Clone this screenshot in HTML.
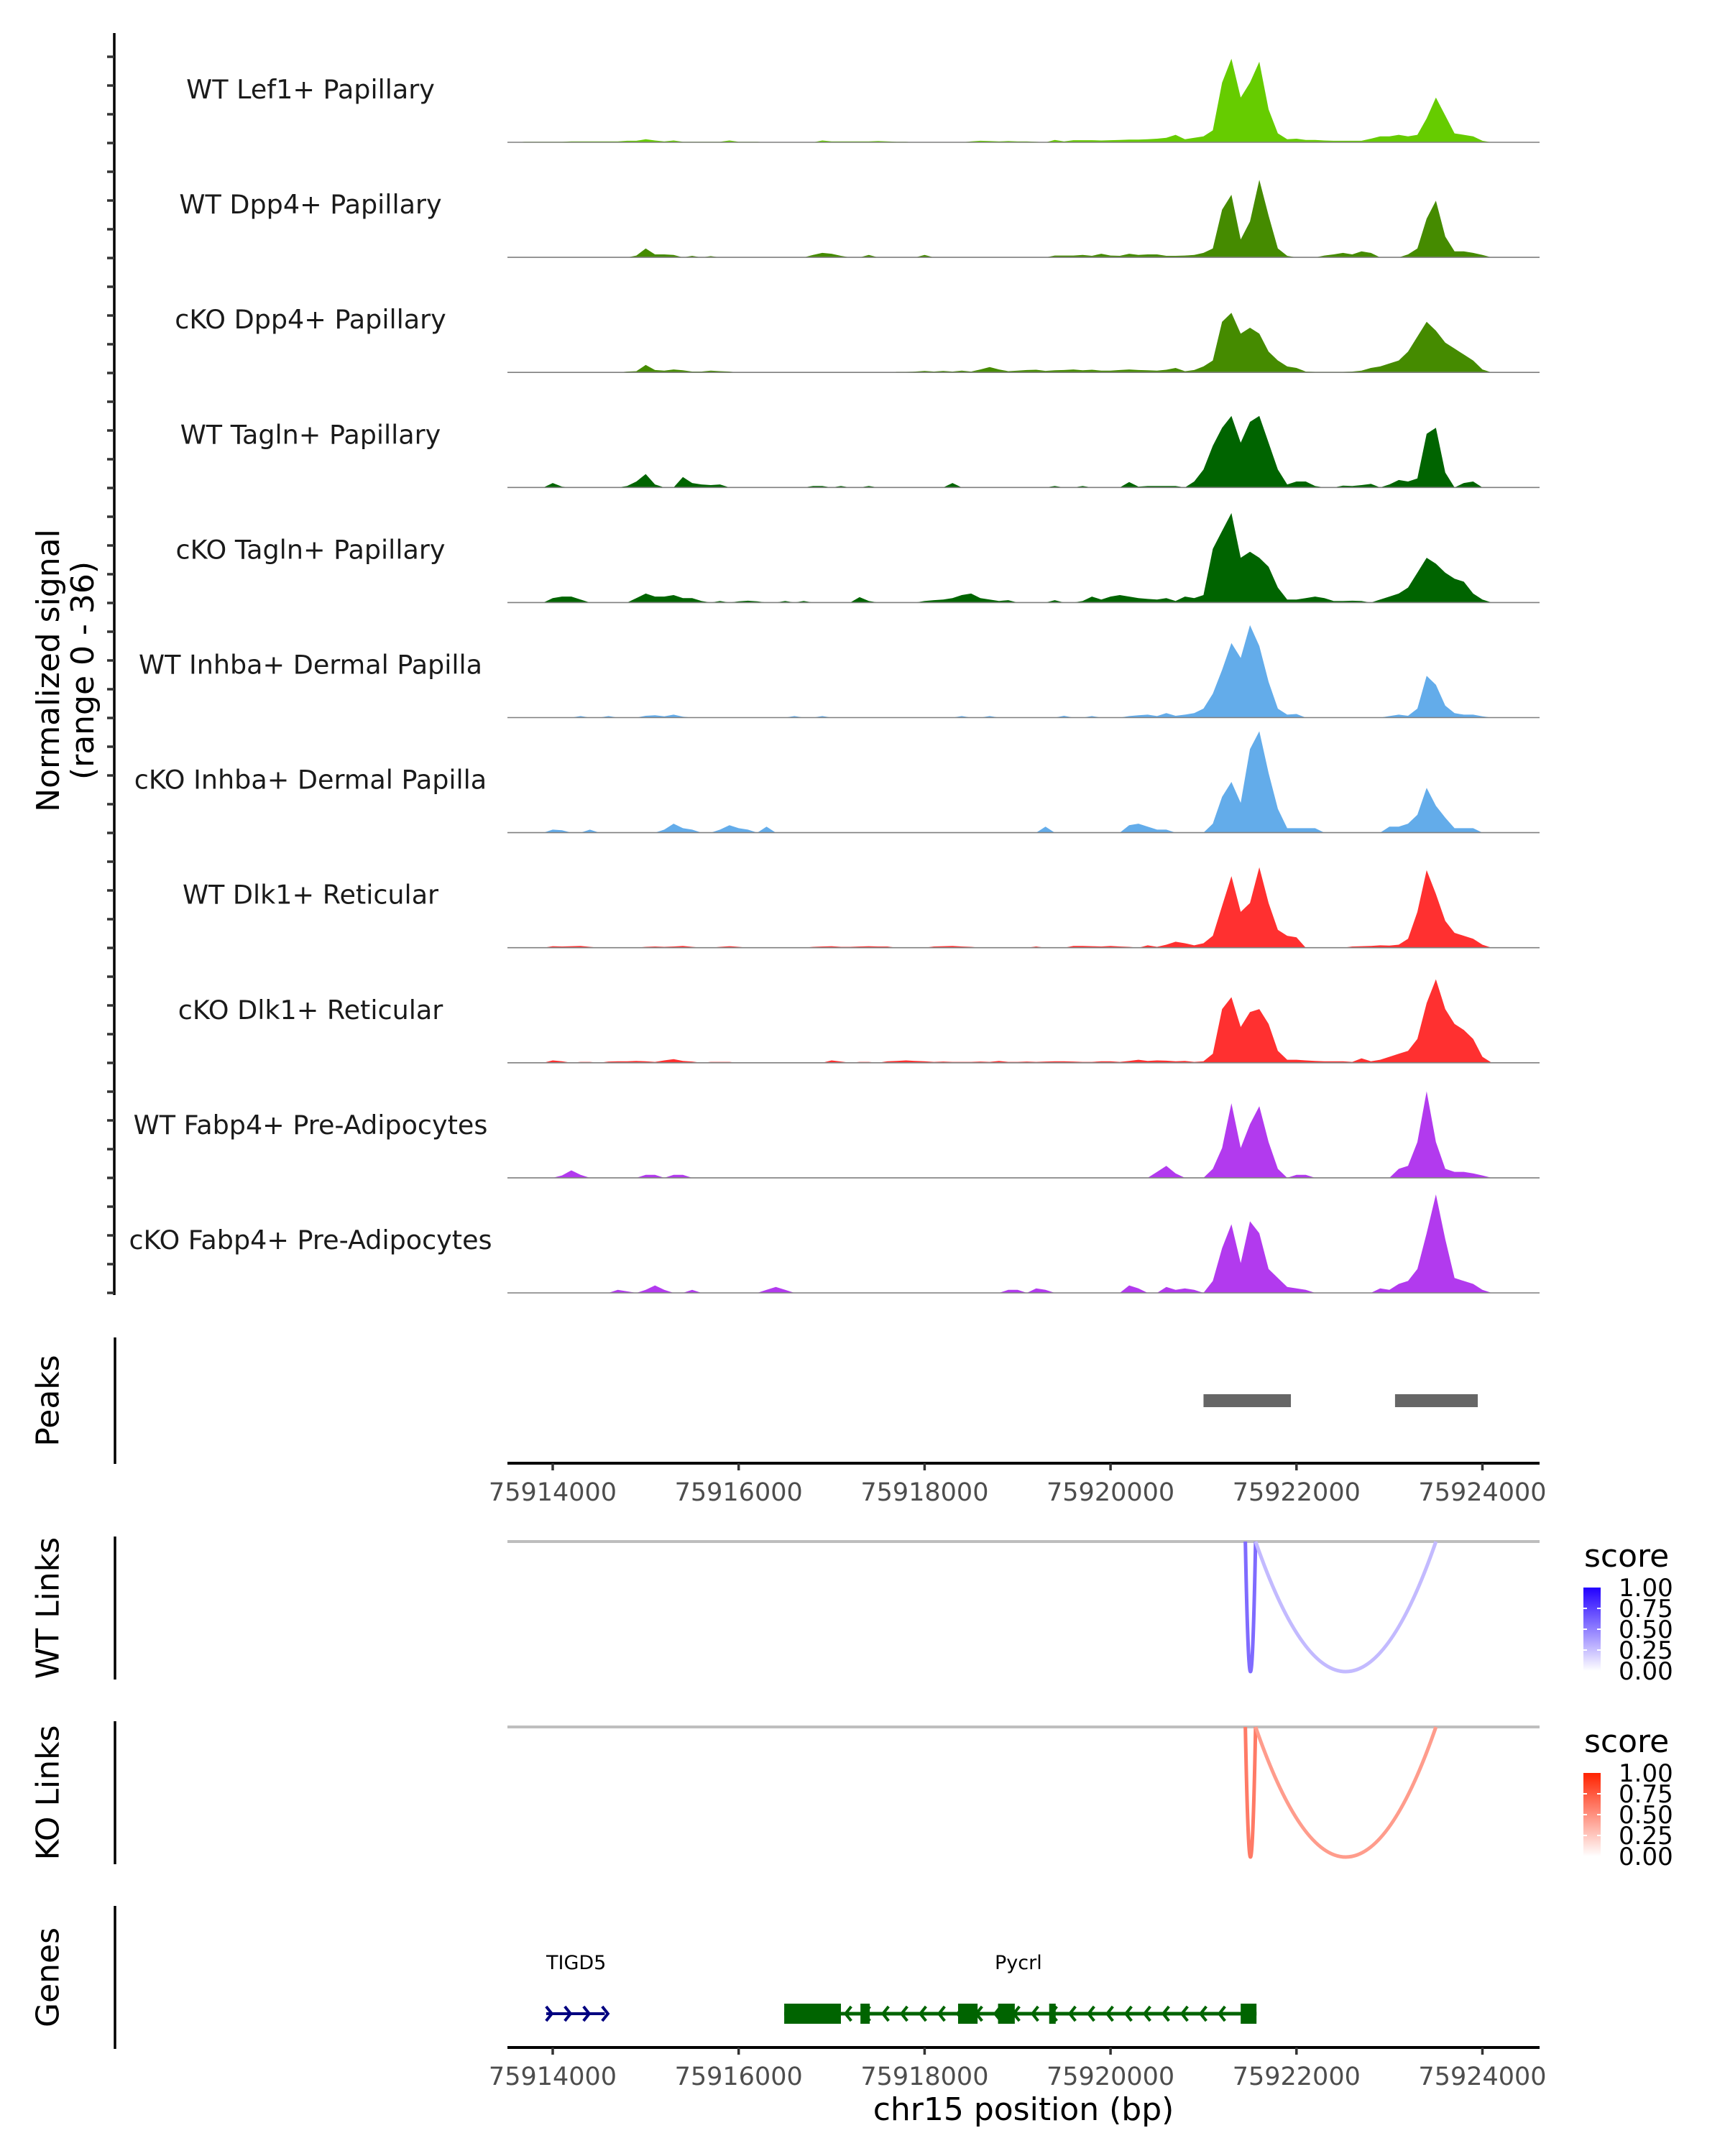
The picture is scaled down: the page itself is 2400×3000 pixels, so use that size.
<!DOCTYPE html>
<html><head><meta charset="utf-8">
<style>
html,body{margin:0;padding:0;background:#fff;}
svg{display:block;font-family:"DejaVu Sans","Liberation Sans",sans-serif;}
</style></head>
<body>
<svg id="chart" width="2400" height="3000" viewBox="0 0 2400 3000" xmlns="http://www.w3.org/2000/svg"></svg>
<script>
// ---------- data ----------
const binStart = 75913450;   // bp of first bin
const binSize = 100;
const trackNames = ["WT Lef1+ Papillary","WT Dpp4+ Papillary","cKO Dpp4+ Papillary","WT Tagln+ Papillary","cKO Tagln+ Papillary","WT Inhba+ Dermal Papilla","cKO Inhba+ Dermal Papilla","WT Dlk1+ Reticular","cKO Dlk1+ Reticular","WT Fabp4+ Pre-Adipocytes","cKO Fabp4+ Pre-Adipocytes"];
const trackColors = ["#66cc00","#458b00","#458b00","#006400","#006400","#63acea","#63acea","#ff3030","#ff3030","#b23aee","#b23aee"];
const lef1WT = [0,0,0.2,0.2,0.2,0.2,0.2,0.3,0.3,0.3, 0.3,0.3,0.3,0.5,0.5,1,0.6,0.3,0.6,0.2, 0.2,0.2,0.2,0.2,0.6,0.2,0.2,0.2,0,0, 0,0,0,0,0.6,0.3,0.3,0.3,0.3,0.3, 0.4,0.3,0.2,0.2,0,0,0,0,0,0, 0.3,0.5,0.4,0.3,0.4,0.3,0.3,0.2,0,0.8, 0.3,0.7,0.7,0.7,0.6,0.7,0.8,0.9,0.9,1, 1.2,1.5,2.5,1,1.5,2,4,20,28,15, 20,27,11,3,1,1.2,0.8,0.8,0.6,0.5, 0.5,0.5,0.5,1.2,2,2,2.5,2,2.5,8, 15,9,3,2.5,2,0.5,0,0,0,0];
const dpp4WT = [0,0,0,0,0,0,0,0,0,0, 0,0,0,0,0.6,3,1,1,0.8,0, 0.5,0,0.4,0,0,0,0,0,0,0, 0,0,0,0.8,1.5,1.2,0.5,0,0,0.8, 0,0,0,0,0,0.8,0,0,0,0, 0,0,0,0,0,0,0,0,0,0.6, 0.6,0.6,0.8,0.5,1.2,0.6,0.5,1.2,0.8,1, 1,0.5,0.5,0.6,0.8,1.5,3,16,21,6, 12,26,14,3,0.5,0,0,0,0.6,1, 1.5,1,2,1.5,0,0,0,1,3,13, 19,7,2,2,1.5,0.8,0,0,0,0];
const dpp4KO = [0,0,0,0,0,0,0,0,0,0, 0,0,0,0.3,0.4,2.5,0.8,0.6,1,0.7, 0.3,0.3,0.6,0.4,0.3,0,0,0,0,0, 0,0,0,0,0,0,0,0,0,0, 0,0,0.2,0.2,0.3,0.5,0.3,0.5,0.3,0.6, 0.3,1,1.8,1,0.4,0.6,0.8,0.9,0.5,0.7, 0.8,1,0.7,0.9,0.6,0.6,0.8,1,0.8,0.7, 0.6,0.9,1.5,0.4,0.8,2,4,17,20,13, 15,13,7,4,2,1.5,0.3,0.2,0.2,0.2, 0.2,0.3,0.6,1.5,2,3,4,7,12,17, 14,10,8,6,4,1,0,0,0,0];
const taglnWT = [0,0,0,0,0,1.5,0.3,0,0,0, 0,0,0,0.5,2,4.5,1,0,0,3.5, 1.5,1,0.8,1,0,0,0,0,0,0, 0,0,0,0.5,0.5,0,0.5,0,0,0.5, 0,0,0,0,0,0,0,0,1.5,0, 0,0,0,0,0,0,0,0,0,0.5, 0,0,0.5,0,0,0,0,1.8,0.3,0.5, 0.5,0.5,0.5,0,2,6,14,20,24,15, 22,24,15,6,1,2,2,0.5,0,0, 0.6,0.5,0.8,1.2,0,1,2.5,2,3,18, 20,5,0,1.5,2,0,0,0,0,0];
const taglnKO = [0,0,0,0,0,1.5,2,2,1,0, 0,0,0,0,1.5,3,2,2,2.5,1.5, 1.5,0.5,0,0.5,0,0.4,0.6,0.4,0,0, 0.5,0,0.5,0,0,0,0,0,1.8,0.5, 0,0,0,0,0,0.5,0.8,1,1.5,2.5, 3,1.5,1,0.5,0.8,0,0,0,0,0.8, 0,0,0.5,2,1,2,2.5,2,1.5,1.2, 1,1.5,0.5,2,1.5,2.5,18,24,30,15, 17,15,12,5,1,1,1.5,2,1.5,0.5, 0.5,0.6,0.5,0,1,2,3,5,10,15, 13,10,8,7,3,1,0,0,0,0];
const inhbaWT = [0,0,0,0,0,0,0,0,0.5,0, 0,0.5,0,0,0,0.6,0.8,0.4,1,0.3, 0,0,0,0,0,0,0,0,0,0, 0,0.5,0,0,0.5,0,0,0,0,0, 0,0,0,0,0,0,0,0,0,0.5, 0,0,0.5,0,0,0,0,0,0,0, 0.6,0,0,0.5,0,0,0,0.5,0.8,1, 0.5,1.5,0.6,1,1.5,3,8,16,25,20, 31,24,12,3,1,1.2,0,0,0,0, 0,0,0,0,0,0.5,1,0.6,3,14, 11,4,1.5,1,1,0.4,0,0,0,0];
const inhbaKO = [0,0,0,0,0,1,0.8,0,0,1, 0,0,0,0,0,0,0,1,3,1.5, 1,0,0,1,2.5,1.5,1,0,2,0, 0,0,0,0,0,0,0,0,0,0, 0,0,0,0,0,0,0,0,0,0, 0,0,0,0,0,0,0,0,2,0, 0,0,0,0,0,0,0,2.5,3,2, 1,1,0,0,0,0,3,12,17,10, 28,34,20,8,1.5,1.5,1.5,1.5,0,0, 0,0,0,0,0,2,2,3,6,15, 9,5,1.5,1.5,1.5,0,0,0,0,0];
const dlk1WT = [0,0,0,0,0,0.5,0.4,0.5,0.6,0.3, 0,0,0,0,0,0.3,0.4,0.3,0.4,0.6, 0.3,0,0,0.3,0.5,0.3,0,0,0,0, 0,0,0,0.3,0.4,0.5,0.3,0.3,0.4,0.5, 0.4,0.4,0,0,0,0,0.4,0.5,0.6,0.4, 0.3,0,0,0,0,0,0,0.4,0,0, 0,0.6,0.6,0.5,0.4,0.6,0.4,0.3,0,0.8, 0.3,1,2,1.5,0.8,1.5,4,14,24,12, 15,27,15,6,4,3.5,0,0,0,0, 0,0.4,0.5,0.6,0.8,0.7,1,3,12,26, 18,9,5,4,3,1,0,0,0,0];
const dlk1KO = [0,0,0,0,0,0.8,0.5,0,0.3,0.3, 0,0.4,0.5,0.5,0.6,0.5,0.3,0.8,1.2,0.6, 0.4,0,0.3,0.3,0.3,0,0,0,0,0, 0,0,0,0,0,0.8,0.4,0,0.3,0.3, 0,0.5,0.6,0.8,0.6,0.5,0.3,0.4,0.3,0.3, 0.3,0.4,0.3,0.6,0.3,0.3,0.4,0.3,0.4,0.5, 0.5,0.4,0.3,0.3,0.5,0.5,0.3,0.6,1,0.6, 0.8,0.7,0.5,0.6,0.3,0.5,3,18,22,12, 17,18,13,4,1,1,0.8,0.6,0.5,0.5, 0.5,0.3,1.5,0.5,1,2,3,4,8,20, 28,18,13,11,8,2,0,0,0,0];
const fabp4WT = [0,0,0,0,0,0,0.8,2.5,1,0, 0,0,0,0,0,1,1,0,1,1, 0,0,0,0,0,0,0,0,0,0, 0,0,0,0,0,0,0,0,0,0, 0,0,0,0,0,0,0,0,0,0, 0,0,0,0,0,0,0,0,0,0, 0,0,0,0,0,0,0,0,0,0, 2,4,1.5,0,0,0,3,10,25,10, 18,24,12,3,0,1,1,0,0,0, 0,0,0,0,0,0,3,4,12,29, 12,3,2,2,1.5,0.8,0,0,0,0];
const fabp4KO = [0,0,0,0,0,0,0,0,0,0, 0,0,1,0.5,0,1,2.5,1,0,0, 1,0,0,0,0,0,0,0,1,2, 1,0,0,0,0,0,0,0,0,0, 0,0,0,0,0,0,0,0,0,0, 0,0,0,0,1,1,0,1.5,1,0, 0,0,0,0,0,0,0,2.5,1.5,0, 0,2,1,1.5,1,0,4,15,23,10, 24,20,8,5,2,1.5,1,0,0,0, 0,0,0,0,1.5,1,3,4,8,20, 33,18,5,4,3,1,0,0,0,0];
const trackValues = [lef1WT,dpp4WT,dpp4KO,taglnWT,taglnKO,inhbaWT,inhbaKO,dlk1WT,dlk1KO,fabp4WT,fabp4KO];
const xTicks = [75914000,75916000,75918000,75920000,75922000,75924000];
const peakStarts = [75921000,75923060];
const peakEnds = [75921940,75923950];
const wtLinkStarts = [75921450,75921560];
const wtLinkEnds = [75921560,75923500];
const wtLinkScores = [0.58,0.27];
const koLinkStarts = [75921450,75921560];
const koLinkEnds = [75921560,75923500];
const koLinkScores = [0.6,0.45];
const legendTicks = ["1.00","0.75","0.50","0.25","0.00"];
const pycrlExonStarts = [75916490,75917310,75918360,75918790,75919340,75921400];
const pycrlExonEnds = [75917100,75917410,75918570,75918970,75919410,75921570];

// ---------- scales ----------
const NS="http://www.w3.org/2000/svg";
const svg=document.getElementById('chart');
const X0=769, PXBP=0.12935;
function xs(bp){return X0+(bp-75914000)*PXBP;}
const PLOT_L=706, PLOT_R=2142;
const TRACK_B0=198, TRACK_STEP=160.1, YUNIT=4.15;
function ys(track,v){return TRACK_B0+track*TRACK_STEP - v*YUNIT;}
function el(tag,attrs,parent){const e=document.createElementNS(NS,tag);for(const k in attrs)e.setAttribute(k,attrs[k]);(parent||svg).appendChild(e);return e;}
function txt(s,attrs,parent){const e=el('text',attrs,parent);e.textContent=s;return e;}

// ---------- signal tracks ----------
const sigAxis=el('line',{x1:159,y1:46,x2:159,y2:1802,stroke:'#000','stroke-width':3.5});


for(let k=0;k<44;k++){
  const ty=TRACK_B0+10*TRACK_STEP - k*40.0;
  const t=el('line',{x1:149,y1:ty,x2:159,y2:ty,stroke:'#333','stroke-width':3.5});
  
  
}
const yt=el('text',{transform:'translate(67,933) rotate(-90)','text-anchor':'middle','dominant-baseline':'central','font-size':44,fill:'#000'});


const t1=el('tspan',{x:0,dy:'0'},yt);t1.textContent='Normalized signal';
const t2=el('tspan',{x:0,dy:'48'},yt);t2.textContent='(range 0 - 36)';

trackValues.forEach((vals,ti)=>{
  const g=el('g',{});
  
  
  const base=ys(ti,0);
  let d='M'+xs(binStart)+','+base;
  vals.forEach((v,i)=>{d+=' L'+xs(binStart+i*binSize+binSize/2).toFixed(1)+','+ys(ti,v).toFixed(1);});
  d+=' L'+xs(binStart+vals.length*binSize)+','+base+' Z';
  const p=el('path',{d:d,fill:trackColors[ti],stroke:'none'},g);
  
  
  const bl=el('line',{x1:PLOT_L,y1:base,x2:PLOT_R,y2:base,stroke:'#7f7f7f','stroke-width':1.6},g);
  
  
  const lab=txt(trackNames[ti],{x:432,y:base-61,'text-anchor':'middle','font-size':36.5,fill:'#1a1a1a'},g);
  
  
});

// ---------- side panel labels / axes ----------
const panels=[["Peaks",1861,2037],["WT Links",2138,2337],["KO Links",2395,2594],["Genes",2652,2851]];
panels.forEach(p=>{
  const a=el('line',{x1:160,y1:p[1],x2:160,y2:p[2],stroke:'#000','stroke-width':3.5});
  
  
  const c=(p[1]+p[2])/2;
  const t=txt(p[0],{transform:'translate(67,'+c+') rotate(-90)','text-anchor':'middle','dominant-baseline':'central','font-size':44,fill:'#000'});
  
  
});

// ---------- peaks ----------
peakStarts.forEach((s,i)=>{
  const r=el('rect',{x:xs(s),y:1940,width:xs(peakEnds[i])-xs(s),height:18,fill:'#666666'});
  
  
});

// x axes
function xAxis(y,name){
  const g=el('g',{});
  
  
  el('line',{x1:PLOT_L,y1:y,x2:PLOT_R,y2:y,stroke:'#000','stroke-width':4},g);
  xTicks.forEach(t=>{
    el('line',{x1:xs(t),y1:y,x2:xs(t),y2:y+10,stroke:'#333','stroke-width':3.5},g);
    const l=txt(String(t),{x:xs(t),y:y+52,'text-anchor':'middle','font-size':35,fill:'#4d4d4d'},g);
    
    
  });
}
xAxis(2036,'peaks-x-axis');
xAxis(2849,'genes-x-axis');
const xt=txt('chr15 position (bp)',{x:1424,y:2950,'text-anchor':'middle','font-size':44,fill:'#000'});



// ---------- links ----------
function mix(hi,s){return 'rgb('+hi.map(c=>Math.round(255+(c-255)*s)).join(',')+')';}
function linkPanel(y0,starts,ends,scores,hi,name){
  const g=el('g',{});
  
  
  const gl=el('line',{x1:PLOT_L,y1:y0,x2:PLOT_R,y2:y0,stroke:'#bebebe','stroke-width':4},g);
  
  
  const depth=181;
  starts.forEach((s,i)=>{
    const a=xs(s),b=xs(ends[i]),m=(a+b)/2,cy=y0+depth*2;
    const p=el('path',{d:'M'+a+','+y0+' Q'+m+','+cy+' '+b+','+y0,fill:'none',stroke:mix(hi,scores[i]),'stroke-width':5},g);
    
    
  });
  // legend
  const lg=el('g',{},g);
  
  
  txt('score',{x:2204,y:y0+35,'font-size':44,fill:'#000'},lg);
  const gid='grad'+name;
  const defs=el('defs',{},lg);
  const gr=el('linearGradient',{id:gid,x1:0,y1:1,x2:0,y2:0},defs);
  el('stop',{offset:'0','stop-color':mix(hi,0)},gr);
  el('stop',{offset:'1','stop-color':mix(hi,1)},gr);
  const top=y0+64,bot=y0+180;
  el('rect',{x:2203,y:top,width:24,height:bot-top,fill:'url(#'+gid+')'},lg);
  legendTicks.forEach((t,i)=>{
    const yy=top+(bot-top)*i/4;
    if(i>0&&i<4){el('line',{x1:2203,y1:yy,x2:2208,y2:yy,stroke:'#fff','stroke-width':2},lg);el('line',{x1:2222,y1:yy,x2:2227,y2:yy,stroke:'#fff','stroke-width':2},lg);}
    txt(t,{x:2252,y:yy+12,'font-size':34,fill:'#000'},lg);
  });
}
linkPanel(2145,wtLinkStarts,wtLinkEnds,wtLinkScores,[34,0,255],'wt-links');
linkPanel(2403,koLinkStarts,koLinkEnds,koLinkScores,[255,34,0],'ko-links');

// ---------- genes ----------
const gg=el('g',{});


const gy=2802;
// TIGD5
const tg=el('g',{},gg);


el('line',{x1:xs(75913930),y1:gy,x2:xs(75914560),y2:gy,stroke:'#000080','stroke-width':4},tg);
for(let k=0;k<4;k++){const cx=xs(75913960)+k*26;el('polyline',{points:(cx-4)+','+(gy-10)+' '+(cx+4)+','+gy+' '+(cx-4)+','+(gy+10),fill:'none',stroke:'#000080','stroke-width':4},tg);}
txt('TIGD5',{x:760,y:2740,'font-size':27,fill:'#000'},tg);
// Pycrl
const pg=el('g',{},gg);


el('line',{x1:xs(75916490),y1:gy,x2:xs(75921570),y2:gy,stroke:'#006400','stroke-width':5},pg);
for(let cx=xs(75917180);cx<xs(75921400);cx+=26){el('polyline',{points:(cx+4)+','+(gy-10)+' '+(cx-4)+','+gy+' '+(cx+4)+','+(gy+10),fill:'none',stroke:'#006400','stroke-width':4},pg);}
pycrlExonStarts.forEach((s,i)=>{
  const r=el('rect',{x:xs(s),y:gy-14,width:Math.max(4,xs(pycrlExonEnds[i])-xs(s)),height:28,fill:'#006400'},pg);
  
  
});
txt('Pycrl',{x:1384,y:2740,'font-size':27,fill:'#000'},pg);
</script>
</body></html>
